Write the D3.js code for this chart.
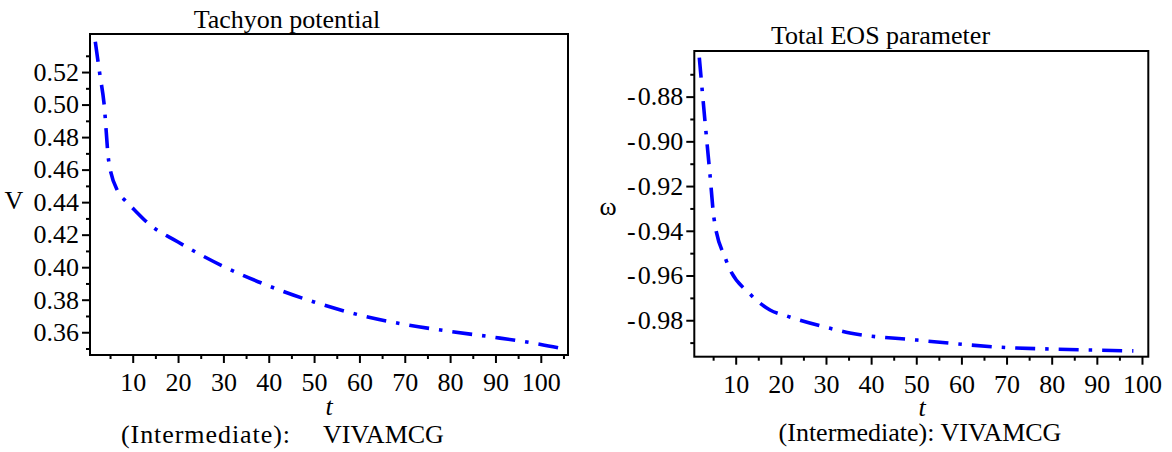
<!DOCTYPE html>
<html>
<head>
<meta charset="utf-8">
<script src="https://cdn.jsdelivr.net/npm/d3@7/dist/d3.min.js"></script>
<style>
  html, body { margin: 0; padding: 0; background: #fff; }
  svg text { font-family: "Liberation Serif", "Times New Roman", serif; fill: #000; }
</style>
</head>
<body>
<script>
// ---------- data ----------
const tachyonT = [1.75, 2.72, 3.67, 4.71, 6.76, 8.46, 10.4, 13.4, 20, 30, 40, 50, 60, 70, 80, 90, 100, 105.0];
const tachyonV = [0.5386, 0.5192, 0.5008, 0.4653, 0.4464, 0.4407, 0.4352, 0.427, 0.4155, 0.4005, 0.3885, 0.3786, 0.3706, 0.3648, 0.3605, 0.3568, 0.3525, 0.3498];

const eosT = [1.94, 3.42, 4.31, 5.19, 7.85, 13.39, 17.6, 21.3, 30.9, 35.3, 49.9, 59.3, 68.9, 78.5, 88.1, 98.1];
const eosW = [-0.8626, -0.8959, -0.9150, -0.9344, -0.9530, -0.9687, -0.9754, -0.9781, -0.9836, -0.9857, -0.9888, -0.9906, -0.9921, -0.9928, -0.9933, -0.9937];

const xTickLabels = [10, 20, 30, 40, 50, 60, 70, 80, 90, 100];
const leftXMinor = [5, 15, 25, 35, 45, 55, 65, 75, 85, 95, 105];
const rightXMinor = [5, 15, 25, 35, 45, 55, 65, 75, 85, 95];
const leftYTicks = [0.36, 0.38, 0.40, 0.42, 0.44, 0.46, 0.48, 0.50, 0.52];
const leftYMinor = [0.35, 0.37, 0.39, 0.41, 0.43, 0.45, 0.47, 0.49, 0.51, 0.53];
const rightYTicks = [-0.98, -0.96, -0.94, -0.92, -0.90, -0.88];
const rightYMinor = [-0.99, -0.97, -0.95, -0.93, -0.91, -0.89, -0.87];

const leftXDomain = [0.58, 106.0];
const leftYDomain = [0.346, 0.5434];
const rightXDomain = [0.83, 101.4];
const rightYDomain = [-0.9963, -0.8596];

// ---------- layout ----------
const W = 1172, H = 452;
const FONT = '"Liberation Serif", "Times New Roman", serif';
const svg = d3.select("body").append("svg").attr("width", W).attr("height", H);
const FS = 26;

function styleText(s) {
  s.selectAll("text")
    .style("font-family", FONT).style("font-size", FS + "px").style("fill", "#000");
}

function panel(opt) {
  const x = d3.scaleLinear().domain(opt.xDomain).range([opt.left, opt.right]);
  const y = d3.scaleLinear().domain(opt.yDomain).range([opt.bottom, opt.top]);
  const g = svg.append("g");

  // minor ticks
  g.append("g").attr("transform", `translate(0,${opt.bottom})`)
    .call(d3.axisBottom(x).tickValues(opt.xMinor).tickSize(4).tickFormat(""))
    .call(s => s.select(".domain").remove())
    .call(s => s.selectAll("line").attr("stroke", "#000").attr("stroke-width", 2));
  g.append("g").attr("transform", `translate(${opt.left},0)`)
    .call(d3.axisLeft(y).tickValues(opt.yMinor).tickSize(4).tickFormat(""))
    .call(s => s.select(".domain").remove())
    .call(s => s.selectAll("line").attr("stroke", "#000").attr("stroke-width", 2));

  // major ticks
  g.append("g").attr("transform", `translate(0,${opt.bottom})`)
    .call(d3.axisBottom(x).tickValues(xTickLabels).tickSize(8).tickPadding(10).tickFormat(d3.format("d")))
    .call(s => s.select(".domain").remove())
    .call(s => s.selectAll("line").attr("stroke", "#000").attr("stroke-width", 2))
    .call(styleText);
  g.append("g").attr("transform", `translate(${opt.left},0)`)
    .call(d3.axisLeft(y).tickValues(opt.yTicks).tickSize(8).tickPadding(3).tickFormat(opt.yFmt))
    .call(s => s.select(".domain").remove())
    .call(s => s.selectAll("line").attr("stroke", "#000").attr("stroke-width", 2))
    .call(styleText);

  // box
  g.append("rect")
    .attr("x", opt.left).attr("y", opt.top)
    .attr("width", opt.right - opt.left).attr("height", opt.bottom - opt.top)
    .attr("fill", "none").attr("stroke", "#000").attr("stroke-width", 2);

  // curve
  const pts = opt.xs.map((t, i) => [t, opt.ys[i]]);
  g.append("path")
    .attr("d", d3.line().x(d => x(d[0])).y(d => y(d[1])).curve(d3.curveMonotoneX)(pts))
    .attr("fill", "none").attr("stroke", "#0000ff").attr("stroke-width", 3.6)
    .attr("stroke-dasharray", "20,10,3.5,10");
  return g;
}

panel({
  left: 90, right: 568, top: 34, bottom: 355,
  xDomain: leftXDomain, yDomain: leftYDomain,
  xMinor: leftXMinor, yMinor: leftYMinor, yTicks: leftYTicks,
  yFmt: d3.format(".2f"),
  xs: tachyonT, ys: tachyonV
});

panel({
  left: 694.3, right: 1148.3, top: 51, bottom: 356.7,
  xDomain: rightXDomain, yDomain: rightYDomain,
  xMinor: rightXMinor, yMinor: rightYMinor, yTicks: rightYTicks,
  yFmt: v => "-\u200A" + Math.abs(v).toFixed(2),
  xs: eosT, ys: eosW
});

// ---------- texts ----------
function txt(x, y, s, anchor, extra) {
  const t = svg.append("text").attr("x", x).attr("y", y)
    .style("font-family", FONT).style("font-size", FS + "px")
    .attr("text-anchor", anchor || "middle").text(s);
  if (extra) extra(t);
  return t;
}
txt(287, 28, "Tachyon potential");
txt(880.5, 43.5, "Total EOS parameter");
txt(14, 209, "V");
txt(608, 215, "ω");
txt(329, 415, "t", "middle", t => t.style("font-style", "italic"));
txt(922, 416, "t", "middle", t => t.style("font-style", "italic"));
txt(121, 443, "(Intermediate):", "start", t => t.attr("textLength", 169).attr("lengthAdjust", "spacing"));
txt(323, 443, "VIVAMCG", "start");
txt(920, 441, "(Intermediate): VIVAMCG");
</script>
</body>
</html>
